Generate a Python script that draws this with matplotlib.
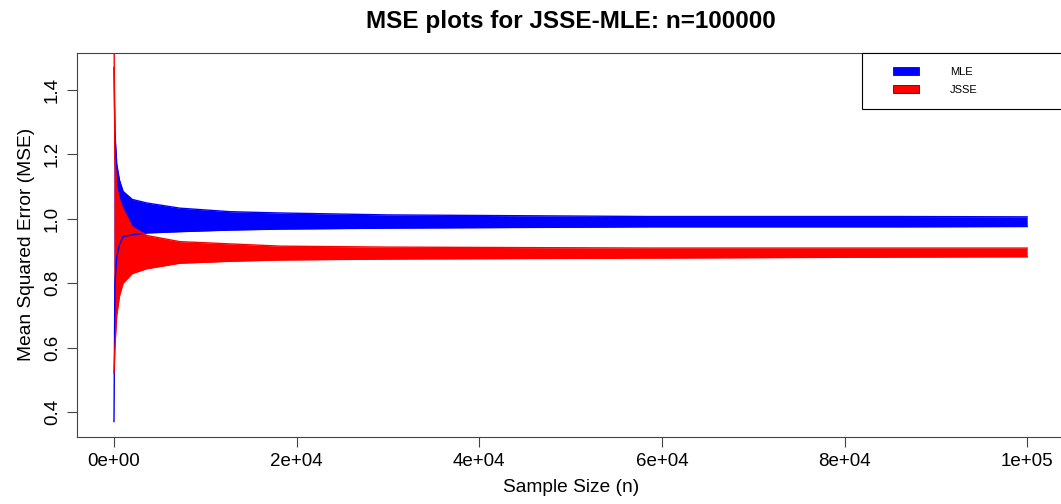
import matplotlib
matplotlib.use("Agg")
from matplotlib import pyplot as plt
from matplotlib.patches import Patch, Rectangle
from matplotlib.legend_handler import HandlerPatch

plt.rcParams['font.family'] = ['Liberation Sans', 'DejaVu Sans']

# envelope of the noisy MSE traces
n_vals = [1, 100, 300, 600, 1000, 2000, 3600, 7200, 12700, 18200, 30000, 58700, 86000, 100000]
mle_hi = [1.47, 1.27, 1.17, 1.12, 1.085, 1.06, 1.049, 1.033, 1.022, 1.018, 1.012, 1.007, 1.007, 1.006]
mle_lo = [0.37, 0.80, 0.88, 0.92, 0.945, 0.950, 0.956, 0.960, 0.965, 0.968, 0.971, 0.975, 0.975, 0.976]
jsse_hi = [1.60, 1.19, 1.10, 1.06, 1.03, 0.975, 0.948, 0.929, 0.922, 0.915, 0.912, 0.909, 0.909, 0.909]
jsse_lo = [0.52, 0.60, 0.70, 0.76, 0.80, 0.83, 0.845, 0.862, 0.868, 0.872, 0.875, 0.878, 0.881, 0.882]

x_ticks = [0, 20000, 40000, 60000, 80000, 100000]
x_tick_labels = ["0e+00", "2e+04", "4e+04", "6e+04", "8e+04", "1e+05"]
y_ticks = [0.4, 0.6, 0.8, 1.0, 1.2, 1.4]
y_tick_labels = ["0.4", "0.6", "0.8", "1.0", "1.2", "1.4"]


class OffsetPatchHandler(HandlerPatch):
    # draws the legend swatch at the right end of a wider handle area
    def create_artists(self, legend, orig_handle, xdescent, ydescent,
                       width, height, fontsize, trans):
        w, h = 18.7, 5.8
        p = Rectangle((width - w - xdescent, (height - h) / 2 - ydescent), w, h,
                      facecolor=orig_handle.get_facecolor(), edgecolor="black", lw=0.5)
        p.set_transform(trans)
        return [p]


def main():
    fig = plt.figure(figsize=(10.61, 5.04), dpi=100)
    ax = fig.add_axes([0.073, 0.1335, 0.930, 0.762])

    ax.fill_between(n_vals, mle_lo, mle_hi, color="blue", lw=0)
    ax.plot(n_vals, mle_hi, color="blue", lw=1)
    ax.plot(n_vals, mle_lo, color="blue", lw=1)
    ax.fill_between(n_vals, jsse_lo, jsse_hi, color="red", lw=0)
    ax.plot(n_vals, jsse_hi, color="red", lw=1)
    ax.plot(n_vals, jsse_lo, color="red", lw=1)

    ax.set_xlim(-4000, 104050)
    ax.set_ylim(0.323, 1.516)
    ax.set_xticks(x_ticks)
    ax.set_xticklabels(x_tick_labels)
    ax.set_yticks(y_ticks)
    ax.set_yticklabels(y_tick_labels, rotation=90, va="center")
    ax.tick_params(direction="out", length=7, width=0.8, colors="#444444",
                   labelsize=13.5, labelcolor="black", pad=5)
    for s in ax.spines.values():
        s.set_color("#444444")
        s.set_linewidth(0.8)

    ax.set_xlabel("Sample Size (n)", fontsize=13.8, labelpad=6)
    ax.set_ylabel("Mean Squared Error (MSE)", fontsize=13.8, labelpad=6)
    fig.suptitle("MSE plots for JSSE-MLE: n=100000", fontsize=17.5,
                 fontweight="bold", x=0.538, y=0.98)

    handles = [Patch(facecolor="blue", label="MLE"), Patch(facecolor="red", label="JSSE")]
    leg = ax.legend(handles=handles, loc="upper left", mode="expand",
                    bbox_to_anchor=(0.795, 0.846, 0.205, 0.154), borderaxespad=0,
                    fontsize=8, fancybox=False, framealpha=1, edgecolor="black",
                    borderpad=1.25, labelspacing=0.75, handlelength=3.9,
                    handleheight=0.75, handletextpad=2.8,
                    handler_map={Patch: OffsetPatchHandler()})
    leg.get_frame().set_linewidth(0.8)

    fig.savefig("out.png", dpi=100)


if __name__ == '__main__':
    main()
